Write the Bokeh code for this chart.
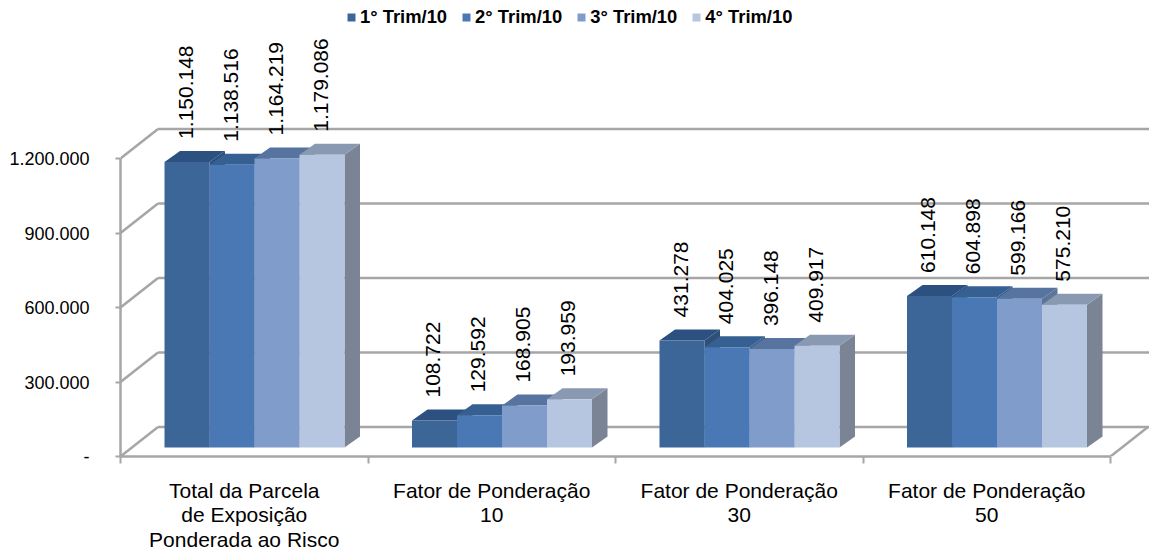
from bokeh.plotting import figure
from bokeh.models import Range1d, FixedTicker, Legend, LegendItem
from bokeh.core.properties import value
from bokeh.embed import file_html
from bokeh.resources import INLINE
import math

categories = ["Total da Parcela\nde Exposição\nPonderada ao Risco", "Fator de Ponderação\n10",
              "Fator de Ponderação\n30", "Fator de Ponderação\n50"]
series_names = ["1° Trim/10", "2° Trim/10", "3° Trim/10", "4° Trim/10"]
trim1 = [1150148, 108722, 431278, 610148]
trim2 = [1138516, 129592, 404025, 604898]
trim3 = [1164219, 168905, 396148, 599166]
trim4 = [1179086, 193959, 409917, 575210]
y_ticks = [0, 300000, 600000, 900000, 1200000]
y_labels = ["-", "300.000", "600.000", "900.000", "1.200.000"]

front = ["#3C6698", "#4A78B4", "#7F9CCB", "#B6C6E1"]
top = ["#2C5080", "#365F92", "#56749F", "#8A99B2"]
side = ["#2E4F78", "#3A5F90", "#5E7598", "#7A8494"]
GRID = "#A6A6A6"
FONT = "Liberation Sans"

W, H = 1149, 550
LEFT, BASE = 120, 456
CAT_PX = 247.5            # px per category
PX_PER_VAL = 74.5 / 300000  # px per value unit
px_x = lambda px: px / CAT_PX
px_y = lambda px: px / PX_PER_VAL

p = figure(width=W, height=H, output_backend="svg", toolbar_location=None,
           x_range=Range1d(0, px_x(W - LEFT)), y_range=Range1d(0, px_y(BASE)),
           min_border_left=LEFT, min_border_right=0, min_border_top=0, min_border_bottom=H - BASE,
           frame_width=W - LEFT, frame_height=BASE, margin=(0, 0, 0, 0))
p.outline_line_color = None
p.background_fill_color = "white"
p.xgrid.visible = False
p.ygrid.visible = False

# axes
xa, ya = p.xaxis[0], p.yaxis[0]
ncat = len(categories)
xa.ticker = FixedTicker(ticks=[i + 0.5 for i in range(ncat)], minor_ticks=list(range(ncat + 1)))
xa.major_label_overrides = {i + 0.5: c for i, c in enumerate(categories)}
xa.bounds = (0, ncat)
xa.major_tick_line_color = None
xa.minor_tick_out, xa.minor_tick_in = 7, 0
xa.minor_tick_line_color = GRID
xa.minor_tick_line_width = 2
xa.axis_line_color = GRID
xa.axis_line_width = 2.5
xa.major_label_text_font = FONT
xa.major_label_text_font_size = "21px"
xa.major_label_text_color = "#000000"
xa.major_label_text_line_height = 1.08
xa.major_label_standoff = 15

ya.ticker = FixedTicker(ticks=y_ticks)
ya.major_label_overrides = dict(zip(y_ticks, y_labels))
ya.bounds = (y_ticks[0], y_ticks[-1])
ya.major_tick_out, ya.major_tick_in = 5, 0
ya.minor_tick_line_color = None
ya.major_tick_line_color = GRID
ya.major_tick_line_width = 2
ya.axis_line_color = GRID
ya.axis_line_width = 2.5
ya.major_label_text_font = FONT
ya.major_label_text_font_size = "18px"
ya.major_label_text_color = "#000000"
ya.major_label_standoff = 26

# back wall and floor
WX, WY = px_x(37.5), px_y(29.5)
p.segment(x0=[0] * 5, y0=y_ticks, x1=[WX] * 5, y1=[t + WY for t in y_ticks],
          line_color=GRID, line_width=2.5)
p.segment(x0=[WX] * 5, y0=[t + WY for t in y_ticks], x1=[px_x(W - LEFT)] * 5,
          y1=[t + WY for t in y_ticks], line_color=GRID, line_width=2.5)
p.segment(x0=[ncat], y0=[0], x1=[ncat + WX], y1=[WY], line_color=GRID, line_width=2.5)

# bars
OFF, BW = px_x(44), px_x(45)
BASE_V = px_y(9)
DX, DY = px_x(15.5), px_y(11)
legend_items = []
all_series = [trim1, trim2, trim3, trim4]
for s, vals in enumerate(all_series):
    xl = [i + OFF + s * BW for i in range(ncat)]
    xr = [x + BW for x in xl]
    tops = [BASE_V + v for v in vals]
    p.patches(xs=[[r, r + DX, r + DX, r] for r in xr],
              ys=[[BASE_V, BASE_V + DY, t + DY, t] for t in tops],
              fill_color=side[s], line_color=None)
    p.patches(xs=[[l, l + DX, r + DX, r] for l, r in zip(xl, xr)],
              ys=[[t, t + DY, t + DY, t] for t in tops],
              fill_color=top[s], line_color=None)
    q = p.quad(left=xl, right=xr, bottom=[BASE_V] * ncat, top=tops, fill_color=front[s], line_color=None)
    legend_items.append(LegendItem(label=series_names[s], renderers=[q]))

# value labels
for s, vals in enumerate(all_series):
    xc = [i + OFF + (s + 0.5) * BW - px_x(1.5) for i in range(ncat)]
    ys = [BASE_V + v + px_y(23) for v in vals]
    txt = [f"{v:,}".replace(",", ".") for v in vals]
    p.text(x=xc, y=ys, text=txt, angle=math.pi / 2, text_align="left", text_baseline="middle",
           text_font=value(FONT), text_font_size="21px", text_color="#000000")

legend = Legend(items=legend_items, orientation="horizontal", location=(346 - LEFT, BASE - 28),
                glyph_width=10, glyph_height=10, label_standoff=4, spacing=14, padding=0, margin=0,
                background_fill_alpha=0, border_line_color=None,
                label_text_font=FONT, label_text_font_style="bold", label_text_font_size="18.4px",
                label_text_color="#000000")
p.add_layout(legend, "center")

open("out.html", "w").write(file_html(p, INLINE))
